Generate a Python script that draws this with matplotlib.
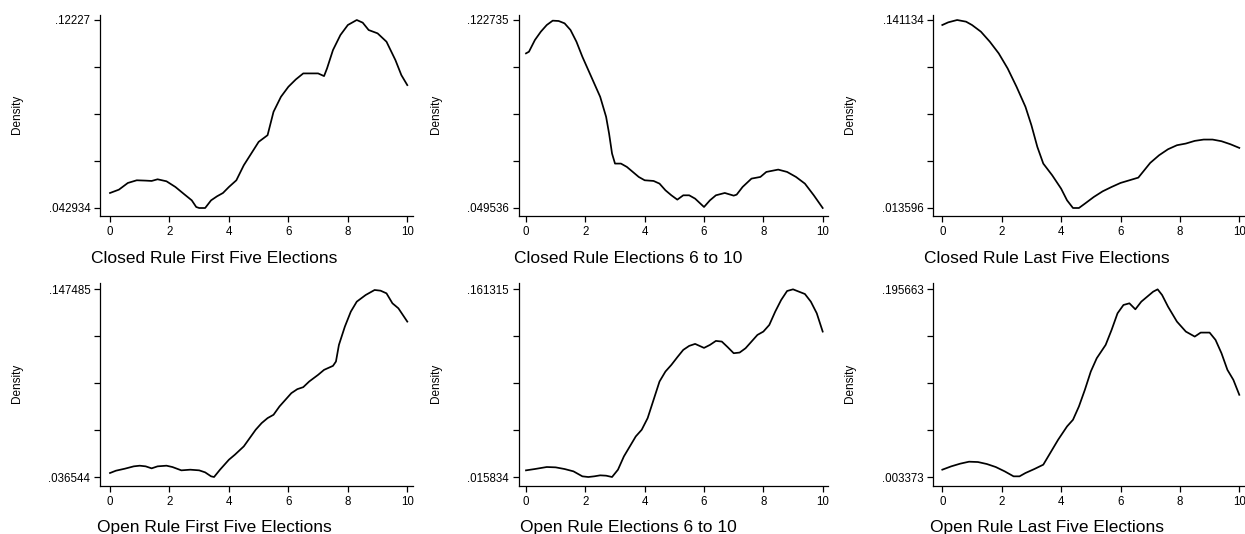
import numpy as np
import matplotlib
matplotlib.use('Agg')
import matplotlib.pyplot as plt

plt.rcParams['font.family'] = ['Liberation Sans', 'DejaVu Sans']

titles = ['Closed Rule First Five Elections', 'Closed Rule Elections 6 to 10',
          'Closed Rule Last Five Elections', 'Open Rule First Five Elections',
          'Open Rule Elections 6 to 10', 'Open Rule Last Five Elections']

# closed rule, first five
x_cf = [0, 0.3, 0.6, 0.9, 1.2, 1.4, 1.6, 1.9, 2.2, 2.5, 2.75, 2.9, 3.0, 3.2, 3.4,
        3.6, 3.8, 4.0, 4.25, 4.5, 4.75, 5.0, 5.3, 5.5, 5.75, 6.0, 6.25, 6.5, 6.75,
        7.0, 7.2, 7.3, 7.5, 7.75, 8.0, 8.3, 8.5, 8.7, 9.0, 9.3, 9.6, 9.8, 10]
d_cf = [0.04927, 0.05068, 0.05350, 0.05463, 0.05449, 0.05435, 0.05505, 0.05421,
        0.05181, 0.04871, 0.04617, 0.04336, 0.04293, 0.04293, 0.04617, 0.04787,
        0.04927, 0.05181, 0.05463, 0.06097, 0.06590, 0.07084, 0.07366, 0.08352,
        0.08986, 0.09409, 0.09719, 0.09973, 0.09973, 0.09973, 0.09860, 0.10184,
        0.10959, 0.11593, 0.12016, 0.12227, 0.12115, 0.11804, 0.11664, 0.11311,
        0.10536, 0.09902, 0.09479]

# closed rule, elections 6 to 10
x_cm = [0, 0.1, 0.3, 0.5, 0.7, 0.9, 1.1, 1.3, 1.5, 1.7, 1.9, 2.1, 2.3, 2.5, 2.7,
        2.8, 2.9, 3.0, 3.2, 3.4, 3.6, 3.8, 4.0, 4.3, 4.5, 4.7, 4.9, 5.1, 5.3, 5.5,
        5.7, 6.0, 6.2, 6.4, 6.7, 7.0, 7.1, 7.3, 7.6, 7.9, 8.1, 8.5, 8.8, 9.1, 9.4,
        9.7, 10]
d_cm = [0.10974, 0.11039, 0.11494, 0.11819, 0.12079, 0.12248, 0.12235, 0.12144,
        0.11884, 0.11429, 0.10843, 0.10323, 0.09803, 0.09283, 0.08503, 0.07853,
        0.07073, 0.06683, 0.06683, 0.06553, 0.06358, 0.06163, 0.06033, 0.06007,
        0.05903, 0.05643, 0.05448, 0.05279, 0.05448, 0.05448, 0.05318, 0.04993,
        0.05253, 0.05448, 0.05539, 0.05435, 0.05474, 0.05773, 0.06098, 0.06163,
        0.06358, 0.06449, 0.06358, 0.06163, 0.05903, 0.05448, 0.04954]

# closed rule, last five
x_cl = [0, 0.2, 0.5, 0.8, 1.0, 1.3, 1.6, 1.9, 2.2, 2.5, 2.8, 3.0, 3.2, 3.4, 3.7,
        4.0, 4.2, 4.4, 4.6, 4.8, 5.1, 5.4, 5.7, 6.0, 6.3, 6.6, 6.8, 7.0, 7.3, 7.6,
        7.9, 8.2, 8.5, 8.8, 9.1, 9.4, 9.7, 10]
d_cl = [0.13774, 0.13955, 0.14113, 0.14000, 0.13774, 0.13321, 0.12641, 0.11848,
        0.10828, 0.09583, 0.08224, 0.06978, 0.05505, 0.04373, 0.03580, 0.02674,
        0.01881, 0.01360, 0.01360, 0.01654, 0.02107, 0.02492, 0.02787, 0.03059,
        0.03240, 0.03421, 0.03919, 0.04418, 0.04939, 0.05346, 0.05618, 0.05732,
        0.05913, 0.06003, 0.06003, 0.05890, 0.05686, 0.05437]

# open rule, first five
x_of = [0, 0.2, 0.5, 0.8, 1.0, 1.2, 1.4, 1.6, 1.9, 2.1, 2.4, 2.7, 3.0, 3.2, 3.4,
        3.5, 3.7, 4.0, 4.2, 4.5, 4.7, 4.9, 5.1, 5.3, 5.5, 5.7, 5.9, 6.1, 6.3, 6.5,
        6.7, 7.0, 7.2, 7.5, 7.6, 7.7, 7.9, 8.1, 8.3, 8.6, 8.9, 9.1, 9.3, 9.5, 9.7, 10]
d_of = [0.03890, 0.04027, 0.04145, 0.04283, 0.04322, 0.04283, 0.04165, 0.04283,
        0.04322, 0.04243, 0.04047, 0.04086, 0.04047, 0.03929, 0.03694, 0.03654,
        0.04086, 0.04675, 0.04970, 0.05461, 0.05952, 0.06443, 0.06835, 0.07130,
        0.07326, 0.07817, 0.08210, 0.08603, 0.08838, 0.08956, 0.09290, 0.09683,
        0.09977, 0.10213, 0.10468, 0.11450, 0.12530, 0.13413, 0.14002, 0.14395,
        0.14690, 0.14650, 0.14493, 0.13904, 0.13610, 0.12824]

# open rule, elections 6 to 10
x_om = [0, 0.3, 0.7, 1.0, 1.3, 1.6, 1.9, 2.1, 2.3, 2.5, 2.7, 2.9, 3.1, 3.3, 3.5,
        3.7, 3.9, 4.1, 4.3, 4.5, 4.7, 4.9, 5.1, 5.3, 5.5, 5.7, 5.9, 6.0, 6.2, 6.4,
        6.6, 6.8, 7.0, 7.2, 7.4, 7.6, 7.8, 8.0, 8.2, 8.4, 8.6, 8.8, 9.0, 9.2, 9.4,
        9.6, 9.8, 10]
d_om = [0.02098, 0.02201, 0.02356, 0.02330, 0.02201, 0.02021, 0.01635, 0.01583,
        0.01635, 0.01712, 0.01686, 0.01583, 0.02150, 0.03180, 0.03952, 0.04725,
        0.05240, 0.06141, 0.07557, 0.08973, 0.09746, 0.10261, 0.10853, 0.11420,
        0.11729, 0.11883, 0.11677, 0.11574, 0.11806, 0.12115, 0.12063, 0.11626,
        0.11162, 0.11213, 0.11548, 0.12063, 0.12578, 0.12836, 0.13351, 0.14381,
        0.15282, 0.15977, 0.16106, 0.15925, 0.15745, 0.15153, 0.14252, 0.12836]

# open rule, last five
x_ol = [0, 0.3, 0.6, 0.9, 1.2, 1.5, 1.8, 2.1, 2.4, 2.6, 2.8, 3.1, 3.4, 3.6, 3.9,
        4.2, 4.4, 4.6, 4.8, 5.0, 5.2, 5.5, 5.7, 5.9, 6.1, 6.3, 6.5, 6.7, 6.9, 7.1,
        7.25, 7.4, 7.6, 7.9, 8.2, 8.5, 8.7, 9.0, 9.2, 9.4, 9.6, 9.8, 10]
d_ol = [0.01086, 0.01426, 0.01699, 0.01903, 0.01869, 0.01665, 0.01358, 0.00916,
        0.00405, 0.00405, 0.00746, 0.01154, 0.01597, 0.02617, 0.04149, 0.05510,
        0.06191, 0.07552, 0.09254, 0.11126, 0.12487, 0.13849, 0.15380, 0.17082,
        0.17933, 0.18103, 0.17490, 0.18273, 0.18784, 0.19294, 0.19532, 0.18954,
        0.17762, 0.16231, 0.15210, 0.14700, 0.15108, 0.15108, 0.14359, 0.12998,
        0.11296, 0.10275, 0.08744]

xs = [x_cf, x_cm, x_cl, x_of, x_om, x_ol]
ds = [d_cf, d_cm, d_cl, d_of, d_om, d_ol]

y_lo = [0.042934, 0.049536, 0.013596, 0.036544, 0.015834, 0.003373]
y_hi = [0.12227, 0.122735, 0.141134, 0.147485, 0.161315, 0.195663]
lo_labels = ['.042934', '.049536', '.013596', '.036544', '.015834', '.003373']
hi_labels = ['.12227', '.122735', '.141134', '.147485', '.161315', '.195663']
x_ticks = [0, 2, 4, 6, 8, 10]

W, H = 1245, 534
fig = plt.figure(figsize=(W / 100, H / 100), dpi=100)
fig.patch.set_facecolor('white')

# pixel layout: columns and rows of the grid
col_axis = [100, 518.7, 933]
col_x0 = [110, 526, 942.3]
col_x10 = [407.3, 822.7, 1239.3]
col_end = [413, 828, 1245]
col_title = [214, 628, 1047]
row_top = [15, 283]
row_hi = [20, 289]
row_lo = [208, 477]
row_axis = [216, 486]
row_base = [263, 532]

for i in range(6):
    r, c = divmod(i, 3)
    left = col_axis[c]
    width = col_end[c] - left
    height = row_axis[r] - row_top[r]
    ax = fig.add_axes([left / W, 1 - row_axis[r] / H, width / W, height / H])

    sx = (col_x10[c] - col_x0[c]) / 10
    ax.set_xlim(-(col_x0[c] - left) / sx, 10 + (col_end[c] - col_x10[c]) / sx)
    lo, hi = y_lo[i], y_hi[i]
    sy = (row_lo[r] - row_hi[r]) / (hi - lo)
    ax.set_ylim(lo - (row_axis[r] - row_lo[r]) / sy, hi + (row_hi[r] - row_top[r]) / sy)

    ax.plot(xs[i], ds[i], color='black', lw=1.25)

    for s in ['top', 'right']:
        ax.spines[s].set_visible(False)
    for s in ['left', 'bottom']:
        ax.spines[s].set_linewidth(0.9)

    ax.set_yticks(np.linspace(lo, hi, 5))
    ax.set_yticklabels([lo_labels[i], '', '', '', hi_labels[i]])
    ax.set_xticks(x_ticks)
    ax.set_xticklabels([str(t) for t in x_ticks])
    ax.tick_params(direction='out', length=4, width=0.9, labelsize=8.3, pad=3)

    ax.set_ylabel('Density', fontsize=8.5)
    ax.yaxis.set_label_coords(-77 / width,
                              (row_axis[r] - (row_hi[r] + row_lo[r]) / 2) / height)

    fig.text(col_title[c] / W, 1 - row_base[r] / H, titles[i],
             ha='center', va='baseline', fontsize=12.5)

fig.savefig('out.png', dpi=100)
